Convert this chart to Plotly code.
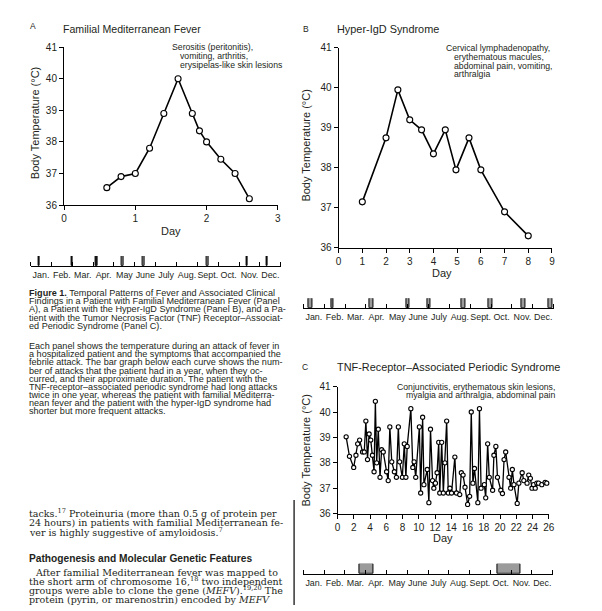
import plotly.graph_objects as go

W, H = 602, 611

# ---------------- data ----------------
fmf_day = [0.6, 0.8, 1.0, 1.2, 1.4, 1.6, 1.8, 1.9, 2.0, 2.2, 2.4, 2.6]
fmf_temp = [36.55, 36.9, 37.0, 37.8, 38.9, 40.0, 38.9, 38.35, 38.0, 37.45, 37.0, 36.2]

hids_day = [1, 2, 2.5, 3, 3.5, 4, 4.5, 4.95, 5.5, 6, 7, 8]
hids_temp = [37.15, 38.75, 39.95, 39.2, 38.95, 38.35, 38.95, 37.95, 38.75, 37.95, 36.9, 36.3]

traps_day = [1.05, 1.46, 1.98, 2.26, 2.47, 2.71, 3.07, 3.28, 3.48, 3.68, 3.88, 4.08, 4.29,
             4.49, 4.65, 4.81, 5.01, 5.22, 5.42, 5.62, 6.03, 6.23, 6.43, 6.67, 6.99, 7.24,
             7.48, 7.64, 7.97, 8.21, 8.41, 8.57, 9.02, 9.26, 9.42, 9.62, 10.07, 10.23, 10.47,
             10.63, 11.04, 11.24, 11.44, 11.69, 11.85, 12.05, 12.25, 12.45, 12.58, 12.82,
             13.02, 13.22, 13.43, 13.63, 13.83, 14.03, 14.44, 14.64, 15.04, 15.24, 15.45,
             15.69, 16.01, 16.26, 16.46, 16.66, 16.86, 17.27, 17.47, 17.67, 18.07, 18.24,
             18.48, 18.68, 19.09, 19.25, 19.49, 19.69, 20.1, 20.3, 20.5, 20.7, 21.11, 21.31,
             21.52, 21.72, 22.12, 22.32, 22.73, 22.93, 23.33, 23.54, 23.74, 23.94, 24.14,
             24.34, 24.54, 24.75, 25.15, 25.56, 25.76, 26.16]
traps_temp = [39.03, 38.26, 37.82, 38.3, 38.75, 38.9, 38.43, 38.43, 39.65, 38.13, 39.14, 38.9, 38.3,
              37.65, 40.43, 38.0, 39.33, 37.43, 38.52, 38.43, 37.65, 37.3, 39.42, 38.04, 37.65, 37.43,
              39.42, 38.04, 37.43, 38.75, 37.43, 38.65, 40.14, 37.82, 38.04, 37.43, 39.42, 36.81, 39.8,
              37.14, 37.74, 36.43, 39.33, 37.3, 37.0, 37.2, 37.61, 38.81, 36.81, 38.81,
              36.81, 38.0, 39.65, 36.81, 37.0, 36.81, 38.23, 36.81, 36.75, 37.61, 37.52,
              37.04, 36.36, 36.68, 40.01, 37.2, 37.78, 36.43, 40.14, 37.0, 37.14, 36.62,
              38.75, 37.43, 36.92, 38.3, 38.65, 37.43, 36.92, 36.79, 38.13, 38.43, 37.43, 37.0,
              37.74, 37.14, 36.4, 37.2, 37.61, 37.3, 37.2, 37.52, 37.39, 37.0, 37.14,
              37.0, 37.2, 37.2, 37.14, 37.23, 37.2, 37.14]

months = ["Jan.", "Feb.", "Mar.", "Apr.", "May", "June", "July", "Aug.", "Sept.", "Oct.", "Nov.", "Dec."]

# attacks over one year (month position, duration in days)
fmf_attack_month = [0.42, 1.98, 3.16, 4.43, 5.43, 8.5, 10.39, 11.34]
fmf_attack_days = [2, 2, 2, 3, 3, 3, 2, 2]
hids_attack_month = [0.35, 1.39, 3.26, 5.0, 6.03, 7.67, 8.97, 10.55, 11.86]
hids_attack_days = [6, 3, 6, 5, 5, 5, 5, 6, 6]
traps_attack_start = [2.69, 9.32]
traps_attack_end = [3.35, 10.46]

DAYS_PER_MONTH = 30.4

# ---------------- styles ----------------
SANS = "Liberation Sans, Arial, Helvetica, sans-serif"
SERIF = "DejaVu Serif, Liberation Serif, serif"
INK = "#231f20"

def fx(px):
    return px / W

def fy(py):
    return 1 - py / H

fig = go.Figure()

line_style = dict(color="black", width=1.6)
def mk(size):
    return dict(symbol="circle", size=size, color="white", line=dict(color="black", width=1.1))

fig.add_trace(go.Scatter(x=fmf_day, y=fmf_temp, mode="lines+markers", line=line_style,
                         marker=mk(6), xaxis="x", yaxis="y", cliponaxis=False))
fig.add_trace(go.Scatter(x=hids_day, y=hids_temp, mode="lines+markers", line=line_style,
                         marker=mk(6), xaxis="x2", yaxis="y2", cliponaxis=False))
fig.add_trace(go.Scatter(x=traps_day, y=traps_temp, mode="lines+markers",
                         line=dict(color="black", width=1.3),
                         marker=mk(4.2), xaxis="x3", yaxis="y3", cliponaxis=False))

def bar_marker(days):
    return dict(color=["#222222" if d <= 2 else "#9b9b9b" for d in days],
                line=dict(color="black", width=1))

fig.add_trace(go.Bar(x=fmf_attack_month, y=[1] * len(fmf_attack_month),
                     width=[d / DAYS_PER_MONTH for d in fmf_attack_days], base=0,
                     marker=bar_marker(fmf_attack_days), xaxis="x4", yaxis="y4"))
fig.add_trace(go.Bar(x=hids_attack_month, y=[1] * len(hids_attack_month),
                     width=[d / DAYS_PER_MONTH for d in hids_attack_days], base=0,
                     marker=bar_marker(hids_attack_days), xaxis="x5", yaxis="y5"))
traps_days = [(e - s) * DAYS_PER_MONTH for s, e in zip(traps_attack_start, traps_attack_end)]
fig.add_trace(go.Bar(x=[(s + e) / 2 for s, e in zip(traps_attack_start, traps_attack_end)],
                     y=[1] * len(traps_attack_start),
                     width=[e - s for s, e in zip(traps_attack_start, traps_attack_end)], base=0,
                     marker=bar_marker(traps_days), xaxis="x6", yaxis="y6"))

def temp_yaxis(top, bottom, xanchor):
    return dict(domain=[fy(bottom), fy(top)], range=[36, 41], tickvals=[36, 37, 38, 39, 40, 41],
                ticks="outside", ticklen=4, tickwidth=1, tickcolor="black",
                showline=True, linecolor="black", linewidth=1.2, showgrid=False, zeroline=False,
                tickfont=dict(family=SANS, size=10, color=INK), anchor=xanchor)

def day_xaxis(left, right, rng, vals, yanchor):
    return dict(domain=[fx(left), fx(right)], range=rng, tickvals=vals,
                ticks="outside", ticklen=4, tickwidth=1, tickcolor="black",
                showline=True, linecolor="black", linewidth=1.2, showgrid=False, zeroline=False,
                tickfont=dict(family=SANS, size=10, color=INK), anchor=yanchor)

def month_xaxis(left, right, yanchor):
    return dict(domain=[fx(left), fx(right)], range=[0, 12],
                tickvals=[i + 0.5 for i in range(12)], ticktext=months, ticks="", tickangle=0,
                tickfont=dict(family=SANS, size=8.9, color=INK), ticklabelstandoff=1,
                minor=dict(tick0=0, dtick=1, ticks="inside", ticklen=4, tickwidth=1, tickcolor="black"),
                showline=True, linecolor="black", linewidth=1, showgrid=False, zeroline=False,
                anchor=yanchor)

def strip_yaxis(top, bottom):
    return dict(domain=[fy(bottom), fy(top)], range=[0, 1], visible=False)

fig.update_layout(
    width=W, height=H, margin=dict(l=0, r=0, t=0, b=0),
    paper_bgcolor="white", plot_bgcolor="white", showlegend=False, bargap=0,
    xaxis=day_xaxis(62, 279, [0, 3], [0, 1, 2, 3], "y"),
    yaxis=temp_yaxis(42, 203, "x"),
    xaxis2=day_xaxis(340.7, 557.3, [0, 9], list(range(10)), "y2"),
    yaxis2=temp_yaxis(42.7, 246.7, "x2"),
    xaxis3=day_xaxis(339.7, 554, [0, 26], list(range(0, 27, 2)), "y3"),
    yaxis3=temp_yaxis(388.5, 517.7, "x3"),
    xaxis4=month_xaxis(28, 282, "y4"),
    yaxis4=strip_yaxis(255, 265),
    xaxis5=month_xaxis(305, 559, "y5"),
    yaxis5=strip_yaxis(298, 307.7),
    xaxis6=month_xaxis(305, 558, "y6"),
    yaxis6=strip_yaxis(569, 579),
)

ann = []
def text(px, py, s, size, family=SANS, xanchor="left", angle=0, color=INK, yanchor="middle"):
    if xanchor == "left":
        px -= 3
    elif xanchor == "right":
        px += 3
    ann.append(dict(x=fx(px), y=fy(py), xref="paper", yref="paper", text=s, showarrow=False,
                    xanchor=xanchor, yanchor=yanchor, textangle=angle,
                    font=dict(family=family, size=size, color=color)))

# panel letters and titles
text(30.5, 20.5, "A", 8.5, xanchor="center")
text(62, 23.3, "Familial Mediterranean Fever", 10.6)
text(307.5, 23, "B", 8.5, xanchor="center")
text(340, 23, "Hyper-IgD Syndrome", 10.9)
text(307, 368, "C", 8.5, xanchor="center")
text(340, 368, "TNF-Receptor–Associated Periodic Syndrome", 10.9)

# axis titles
text(32, 120, "Body Temperature (°C)", 11, xanchor="center", angle=-90)
text(308, 142, "Body Temperature (°C)", 11, xanchor="center", angle=-90)
text(308, 453, "Body Temperature (°C)", 11, xanchor="center", angle=-90)
text(171, 229, "Day", 11, xanchor="center")
text(446, 272, "Day", 11, xanchor="center")
text(447, 543, "Day", 11, xanchor="center")

# symptom notes
NS = 8.7
text(173, 42.3, "Serositis (peritonitis),", NS)
text(181, 51.3, "vomiting, arthritis,", NS)
text(181, 60.3, "erysipelas-like skin lesions", NS)
text(450.7, 42.7, "Cervical lymphadenopathy,", NS)
text(459.3, 51.7, "erythematous macules,", NS)
text(459.3, 60.7, "abdominal pain, vomiting,", NS)
text(459.3, 69.7, "arthralgia", NS)
text(559, 388.3, "Conjunctivitis, erythematous skin lesions,", NS, xanchor="right")
text(559, 397.3, "myalgia and arthralgia, abdominal pain", NS, xanchor="right")

# caption
CS = 9.1
caption = [
    "<b>Figure 1.</b> Temporal Patterns of Fever and Associated Clinical",
    "Findings in a Patient with Familial Mediterranean Fever (Panel",
    "A), a Patient with the Hyper-IgD Syndrome (Panel B), and a Pa-",
    "tient with the Tumor Necrosis Factor (TNF) Receptor–Associat-",
    "ed Periodic Syndrome (Panel C).",
]
for i, s in enumerate(caption):
    text(27, 292.5 + i * 8.5, s, CS)

para = [
    "Each panel shows the temperature during an attack of fever in",
    "a hospitalized patient and the symptoms that accompanied the",
    "febrile attack. The bar graph below each curve shows the num-",
    "ber of attacks that the patient had in a year, when they oc-",
    "curred, and their approximate duration. The patient with the",
    "TNF-receptor–associated periodic syndrome had long attacks",
    "twice in one year, whereas the patient with familial Mediterra-",
    "nean fever and the patient with the hyper-IgD syndrome had",
    "shorter but more frequent attacks.",
]
for i, s in enumerate(para):
    text(27, 347 + i * 8.3, s, CS)

# body text (serif), placed by bottom edge so superscripts do not shift lines
BS = 9.5
def serif_line(px, center_y, s):
    text(px, center_y + 0.55 * BS, s, BS, family=SERIF, yanchor="bottom")

body1 = [
    "tacks.<sup>17</sup> Proteinuria (more than 0.5 g of protein per",
    "24 hours) in patients with familial Mediterranean fe-",
    "ver is highly suggestive of amyloidosis.<sup>7</sup>",
]
for i, s in enumerate(body1):
    serif_line(27, 520 + i * 9.5, s)

text(27, 564, "<b>Pathogenesis and Molecular Genetic Features</b>", 10.2)

body2 = [
    "After familial Mediterranean fever was mapped to",
    "the short arm of chromosome 16,<sup>18</sup> two independent",
    "groups were able to clone the gene (<i>MEFV</i>).<sup>19,20</sup> The",
    "protein (pyrin, or marenostrin) encoded by <i>MEFV</i>",
]
xs = [33, 27, 27, 27]
for i, s in enumerate(body2):
    serif_line(xs[i], 580 + i * 9.3, s)

fig.update_layout(annotations=ann)

fig.add_shape(type="line", xref="paper", yref="paper", x0=fx(295.5), x1=fx(295.5), y0=0, y1=fy(504),
              line=dict(color="black", width=1.2))

fig.write_html("out.html", config={"displayModeBar": False},
               post_script="document.body.style.margin='0';document.body.style.padding='0';"
                           "document.documentElement.style.overflow='hidden';")
